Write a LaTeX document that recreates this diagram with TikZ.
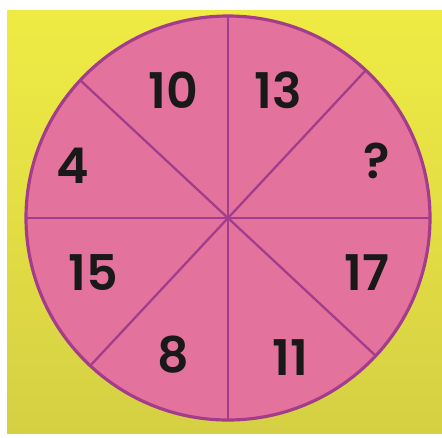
\documentclass[tikz,border=0pt]{standalone}
\usepackage{fontspec}
\setmainfont{Poppins}[UprightFont=*-Regular,BoldFont=*-SemiBold]
\usepackage{xcolor}

\definecolor{fond}{HTML}{EFEB44}
\definecolor{fondbas}{HTML}{D5D043}
\definecolor{rose}{HTML}{E3729C}
\definecolor{violet}{HTML}{A33C8C}

\tikzset{
  chiffre/.style={font=\fontsize{28}{28}\selectfont\bfseries, text=black!90},
  rayon/.style={violet, line width=1.3pt}
}

\begin{document}
\begin{tikzpicture}[x=0.02cm, y=-0.02cm]

% Fond
\fill[white] (0,0) rectangle (442,437);
\shade[top color=fond, bottom color=fondbas] (7,10) rectangle (442,433);
\useasboundingbox (0,0) rectangle (442,437);

% Disque
\coordinate (c) at (228,218);
\fill[rose] (c) circle (202);
\draw[violet, line width=1.8pt] (c) circle (202);

% Rayons
\foreach \a in {0,47,90,137,180,227,270,317}
  \draw[rayon] (c) -- ++(-\a:202);

% Nombres
\node[chiffre] (n10) at (173,90) {10};
\node[chiffre] (n13) at (278,90) {13};
\node[chiffre] (n4) at (73,166) {4};
\node[chiffre] (nq) at (377,161) {?};
\node[chiffre] (n15) at (93,273) {15};
\node[chiffre] (n17) at (367,273) {17};
\node[chiffre] (n8) at (173,355) {8};
\node[chiffre] (n11) at (290,358) {11};

\end{tikzpicture}
\end{document}
